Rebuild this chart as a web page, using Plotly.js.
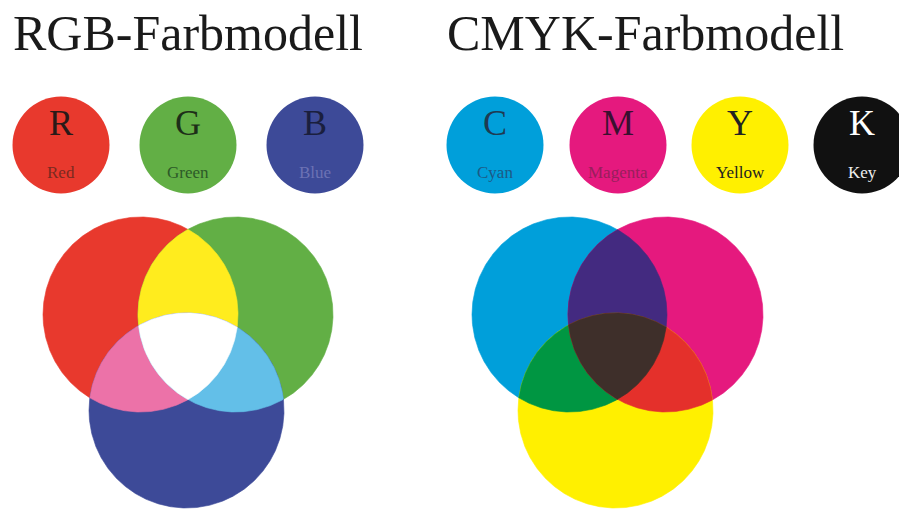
<!DOCTYPE html>
<html><head><meta charset="utf-8">
<script src="https://cdn.plot.ly/plotly-3.0.1.min.js"></script>
<style>html,body{margin:0;padding:0;background:#fff}#chart{width:899px;height:509px}</style>
</head><body><div id="chart"></div>
<script>
// ---- data ----
const titles = ["RGB-Farbmodell", "CMYK-Farbmodell"];
const rgbLetters = ["R", "G", "B"];
const rgbLabels = ["Red", "Green", "Blue"];
const cmykLetters = ["C", "M", "Y", "K"];
const cmykLabels = ["Cyan", "Magenta", "Yellow", "Key"];
// overlap sets (indices into the three primaries of each model)
const rgbMixSets = [[0,1],[0,2],[1,2],[0,1,2]];
const cmykMixSets = [[0,1],[0,2],[1,2],[0,1,2]];

// ---- styles ----
const rgbColors = ["#E8392D", "#62AF45", "#3D4A98"];
const rgbMixColors = ["#FFEC1E", "#EC72A8", "#63BFE8", "#FFFFFF"];
const cmykColors = ["#009FDA", "#E5197E", "#FFF000", "#111111"];
const cmykMixColors = ["#432A80", "#009642", "#E4302B", "#3E2F2A"];
const rgbLetterColors = ["#2a1a18", "#1d2e18", "#1a1f3e"];
const rgbLabelColors = ["#7a2a20", "#2d5a28", "#6c72b4"];
const cmykLetterColors = ["#1f3a52", "#3a1030", "#222222", "#FFFFFF"];
const cmykLabelColors = ["#1d5a86", "#981f5c", "#222222", "#EEEEEE"];

// ---- layout geometry ----
const W = 899, H = 509;
const smallY = 145, smallD = 97;
const rgbSmallX = [61, 188, 315];
const cmykSmallX = [495, 618, 740, 862];
const bigR = 97.5;
const rgbBig = [[140.5, 314.5], [235.5, 314.5], [186.5, 410.5]];
const cmykBig = [[569.5, 314.5], [665.5, 314.5], [615.5, 410.5]];

function region(circles, idx) {
  const N = 720, pts = [];
  idx.forEach(i => {
    const [cx, cy] = circles[i];
    for (let k = 0; k < N; k++) {
      const t = 2 * Math.PI * k / N;
      const px = cx + bigR * Math.cos(t), py = cy + bigR * Math.sin(t);
      let ok = true;
      idx.forEach(j => {
        if (j === i) return;
        const dx = px - circles[j][0], dy = py - circles[j][1];
        if (Math.sqrt(dx*dx + dy*dy) > bigR + 1e-6) ok = false;
      });
      if (ok) pts.push([px, py]);
    }
  });
  let mx = 0, my = 0;
  pts.forEach(p => { mx += p[0]; my += p[1]; });
  mx /= pts.length; my /= pts.length;
  pts.sort((a, b) => Math.atan2(a[1]-my, a[0]-mx) - Math.atan2(b[1]-my, b[0]-mx));
  pts.push(pts[0]);
  return pts;
}

const traces = [];
function addRegion(circles, idx, color) {
  const p = region(circles, idx);
  traces.push({
    type: "scatter", mode: "lines", x: p.map(q => q[0]), y: p.map(q => q[1]),
    fill: "toself", fillcolor: color, line: {width: 0.6, color: color},
    hoverinfo: "skip", showlegend: false
  });
}
[0,1,2].forEach(i => addRegion(rgbBig, [i], rgbColors[i]));
rgbMixSets.forEach((s, k) => addRegion(rgbBig, s, rgbMixColors[k]));
[0,1,2].forEach(i => addRegion(cmykBig, [i], cmykColors[i]));
cmykMixSets.forEach((s, k) => addRegion(cmykBig, s, cmykMixColors[k]));

// small circles
traces.push({
  type: "scatter", mode: "markers", x: rgbSmallX, y: rgbSmallX.map(() => smallY),
  marker: {size: smallD, color: rgbColors, line: {width: 0}}, hoverinfo: "skip", showlegend: false
});
traces.push({
  type: "scatter", mode: "markers", x: cmykSmallX, y: cmykSmallX.map(() => smallY),
  marker: {size: smallD, color: cmykColors, line: {width: 0}}, hoverinfo: "skip", showlegend: false
});

const serif = "Liberation Serif, Times New Roman, serif";
const ann = [];
ann.push({x: 11, y: 33, xref: "x", yref: "y", text: titles[0], showarrow: false, xanchor: "left", yanchor: "middle",
  font: {family: serif, size: 50, color: "#1a1a1a"}});
ann.push({x: 445, y: 33, xref: "x", yref: "y", text: titles[1], showarrow: false, xanchor: "left", yanchor: "middle",
  font: {family: serif, size: 50, color: "#1a1a1a"}});
function addSmall(xs, letters, labels, lc, bc) {
  xs.forEach((x, i) => {
    ann.push({x: x, y: 123, xref: "x", yref: "y", text: letters[i], showarrow: false, xanchor: "center", yanchor: "middle",
      font: {family: serif, size: 36, color: lc[i]}});
    ann.push({x: x, y: 172, xref: "x", yref: "y", text: labels[i], showarrow: false, xanchor: "center", yanchor: "middle",
      font: {family: serif, size: 17, color: bc[i]}});
  });
}
addSmall(rgbSmallX, rgbLetters, rgbLabels, rgbLetterColors, rgbLabelColors);
addSmall(cmykSmallX, cmykLetters, cmykLabels, cmykLetterColors, cmykLabelColors);

const layout = {
  width: W, height: H, margin: {l: 0, r: 0, t: 0, b: 0, pad: 0},
  paper_bgcolor: "#fff", plot_bgcolor: "#fff", showlegend: false,
  xaxis: {range: [0, W], visible: false, fixedrange: true},
  yaxis: {range: [H, 0], visible: false, fixedrange: true},
  annotations: ann, hovermode: false
};
Plotly.newPlot("chart", traces, layout, {staticPlot: true, displayModeBar: false});
</script></body></html>
